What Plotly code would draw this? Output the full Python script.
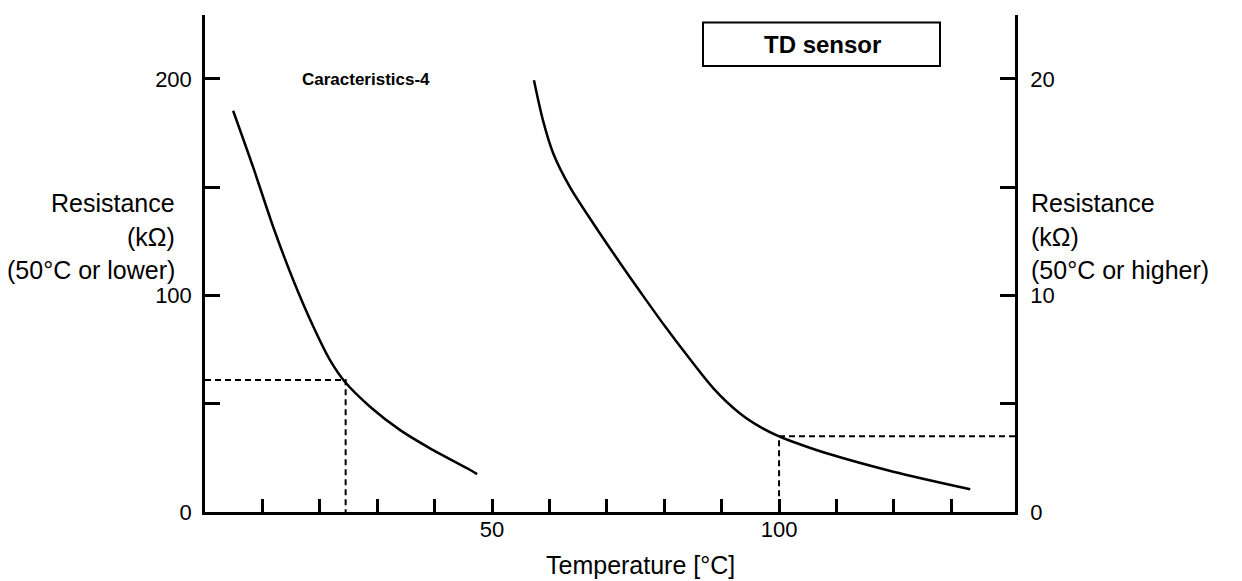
import plotly.graph_objects as go

# Data read from the reference
# Curve for 50°C or lower (left axis, kΩ)
low_temp = [4.9, 8.4, 11.9, 15.4, 18.9, 21.8, 24.4, 28.8, 34.0, 39.2, 46.2, 47.4]
low_res = [185.3, 159.1, 131.5, 106.9, 85.4, 70.0, 60.0, 48.5, 37.8, 29.4, 19.4, 17.5]

# Curve for 50°C or higher (right axis, kΩ)
high_temp = [57.3, 58.9, 60.7, 63.6, 67.7, 72.3, 76.0, 80.0, 84.5, 88.6, 93.2, 96.7, 100.2, 103.6, 108.3, 119.9, 133.3]
high_res = [19.94, 18.06, 16.53, 14.99, 13.30, 11.50, 10.10, 8.62, 7.05, 5.70, 4.55, 3.93, 3.47, 3.13, 2.71, 1.86, 1.05]

# Reference (dashed) points
ref_low = (24.5, 61.0)
ref_high = (100.0, 3.5)

x_tickvals = [10, 20, 30, 40, 50, 60, 70, 80, 90, 100, 110, 120, 130]
x_ticktext = ["", "", "", "", "50", "", "", "", "", "100", "", "", ""]
y_tickvals = [0, 50, 100, 150, 200]
y_ticktext = ["0", "", "100", "", "200"]
y2_tickvals = [0, 5, 10, 15, 20]
y2_ticktext = ["0", "", "10", "", "20"]

X_MAX = 141.1
Y_MAX = 229.5
Y2_MAX = 22.95

FONT = "Liberation Sans, Arial, sans-serif"
fs_title = 25
fs_tick = 22
fs_label = 17

fig = go.Figure()
fig.add_trace(go.Scatter(x=low_temp, y=low_res, mode="lines",
                         line=dict(color="black", width=2.5, shape="spline", smoothing=0.8),
                         showlegend=False, hoverinfo="skip"))
fig.add_trace(go.Scatter(x=high_temp, y=high_res, mode="lines", yaxis="y2",
                         line=dict(color="black", width=2.5, shape="spline", smoothing=0.8),
                         showlegend=False, hoverinfo="skip"))
# dashed guides
fig.add_trace(go.Scatter(x=[0, ref_low[0], ref_low[0]], y=[ref_low[1], ref_low[1], 0], mode="lines",
                         line=dict(color="black", width=2, dash="6px,4px"),
                         showlegend=False, hoverinfo="skip"))
fig.add_trace(go.Scatter(x=[X_MAX, ref_high[0], ref_high[0]], y=[ref_high[1], ref_high[1], 0], mode="lines",
                         yaxis="y2", line=dict(color="black", width=2, dash="6px,4px"),
                         showlegend=False, hoverinfo="skip"))

L, R, T, B = 205, 1015, 15, 512
W, H = 1242, 581


def px(x):
    return (x - L) / (R - L)


def py(y):
    return (B - y) / (B - T)


def txt_font(size):
    return dict(size=size, family=FONT, color="black")


annotations = [
    dict(text="<b>Caracteristics-4</b>", x=px(300), y=py(80), xref="paper", yref="paper",
         showarrow=False, font=txt_font(fs_label), xanchor="left", yanchor="middle"),
    dict(text="<b>TD sensor</b>", x=px(822), y=py(44), xref="paper", yref="paper",
         showarrow=False, font=txt_font(24), xanchor="center", yanchor="middle"),
    dict(text="Temperature [°C]", x=px(640), y=py(565), xref="paper", yref="paper",
         showarrow=False, font=txt_font(fs_title), xanchor="center", yanchor="middle"),
]
for t, yy in [("Resistance", 203), ("(kΩ)", 237), ("(50°C or lower)", 270)]:
    annotations.append(dict(text=t, x=px(177), y=py(yy), xref="paper", yref="paper", showarrow=False,
                            font=txt_font(fs_title), xanchor="right", yanchor="middle"))
for t, yy in [("Resistance", 203), ("(kΩ)", 237), ("(50°C or higher)", 270)]:
    annotations.append(dict(text=t, x=px(1029), y=py(yy), xref="paper", yref="paper", showarrow=False,
                            font=txt_font(fs_title), xanchor="left", yanchor="middle"))

shapes = [dict(type="rect", xref="paper", yref="paper", x0=px(703), x1=px(940), y0=py(66), y1=py(22.5),
               line=dict(color="black", width=2), fillcolor="rgba(0,0,0,0)")]

axis_common = dict(showgrid=False, zeroline=False, showline=True, linecolor="black", linewidth=2.5,
                   ticks="inside", tickcolor="black", tickwidth=2.5,
                   tickfont=txt_font(fs_tick), fixedrange=True)

fig.update_layout(
    width=W, height=H,
    margin=dict(l=L, r=W - R, t=T, b=H - B),
    paper_bgcolor="white", plot_bgcolor="white",
    font=dict(family=FONT, size=fs_tick, color="black"),
    xaxis=dict(range=[0, X_MAX], tickvals=x_tickvals, ticktext=x_ticktext, ticklen=13,
               ticklabelstandoff=-4, **axis_common),
    yaxis=dict(range=[0, Y_MAX], tickvals=y_tickvals, ticktext=y_ticktext, ticklen=15,
               ticklabelstandoff=6, **axis_common),
    yaxis2=dict(range=[0, Y2_MAX], tickvals=y2_tickvals, ticktext=y2_ticktext, ticklen=15,
                ticklabelstandoff=8, overlaying="y", side="right", **axis_common),
    annotations=annotations,
    shapes=shapes,
)

fig.write_html("out.html", config={"displayModeBar": False},
               post_script="document.body.style.margin='0';document.body.style.overflow='hidden';")
